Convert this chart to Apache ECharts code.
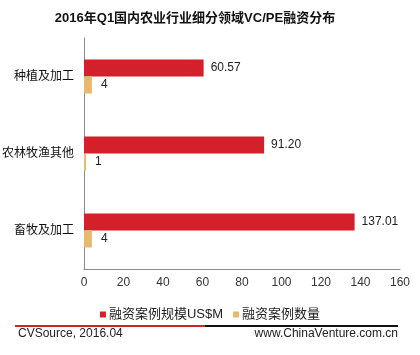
<!DOCTYPE html>
<html><head><meta charset="utf-8">
<script src="https://cdn.jsdelivr.net/npm/echarts@6/dist/echarts.min.js"></script>
<style>html,body{margin:0;padding:0;background:#fff}#c{width:420px;height:355px}</style>
</head><body><div id="c"></div>
<script>
const categories = ['种植及加工', '农林牧渔其他', '畜牧及加工'];
const amountUSD = [60.57, 91.20, 137.01];
const dealCount = [4, 1, 4];
const seriesNames = ['融资案例规模US$M', '融资案例数量'];
const xTicks = {min: 0, max: 160, interval: 20};

const chart = echarts.init(document.getElementById('c'), null, {renderer: 'canvas'});
const FONT = 'Arial, "Liberation Sans", "Noto Sans CJK SC", sans-serif';
chart.setOption({
  animation: false,
  backgroundColor: '#fff',
  title: {
    text: '2016年Q1国内农业行业细分领域VC/PE融资分布',
    left: 190, top: 7, textAlign: 'center',
    textStyle: {fontSize: 13, fontWeight: 'bold', color: '#111', fontFamily: FONT}
  },
  legend: {
    data: seriesNames, top: 303, left: 'center',
    itemWidth: 6, itemHeight: 6, itemGap: 10, icon: 'rect',
    textStyle: {fontSize: 13, color: '#222', fontFamily: FONT, padding: [0, 0, 0, -2]}
  },
  grid: {left: 84, right: 20, top: 38, bottom: 86, outerBoundsMode: 'none', containLabel: false},
  xAxis: {
    type: 'value', min: xTicks.min, max: xTicks.max, interval: xTicks.interval,
    axisLine: {show: true, lineStyle: {color: '#888'}},
    axisTick: {show: false}, splitLine: {show: false},
    axisLabel: {fontSize: 12, color: '#333', margin: 8, fontFamily: FONT}
  },
  yAxis: {
    type: 'category', data: categories, inverse: true,
    axisLine: {show: true, lineStyle: {color: '#888'}},
    axisTick: {show: false},
    axisLabel: {fontSize: 12, color: '#111', margin: 10, fontFamily: FONT}
  },
  series: [
    {
      name: seriesNames[0], type: 'bar', data: amountUSD, barWidth: 17, barGap: '0%',
      itemStyle: {color: '#d3202b'},
      label: {show: true, position: 'right', distance: 7, fontSize: 12, color: '#222', fontFamily: FONT,
        formatter: p => p.value.toFixed(2)}
    },
    {
      name: seriesNames[1], type: 'bar', data: dealCount, barWidth: 17,
      itemStyle: {color: '#e8b96c'},
      label: {show: true, position: 'right', distance: 9, fontSize: 12, color: '#222', fontFamily: FONT}
    }
  ],
  graphic: [
    {type: 'line', shape: {x1: 15, y1: 326, x2: 205, y2: 326}, style: {stroke: '#d3202b', lineWidth: 2}},
    {type: 'line', shape: {x1: 205, y1: 326, x2: 398, y2: 326}, style: {stroke: '#111', lineWidth: 2}},
    {type: 'text', left: 18, top: 328, style: {text: 'CVSource, 2016.04', fontSize: 12, fill: '#222', fontFamily: FONT}},
    {type: 'text', right: 22, top: 328, style: {text: 'www.ChinaVenture.com.cn', fontSize: 12, fill: '#222', fontFamily: FONT}}
  ]
});
</script></body></html>
